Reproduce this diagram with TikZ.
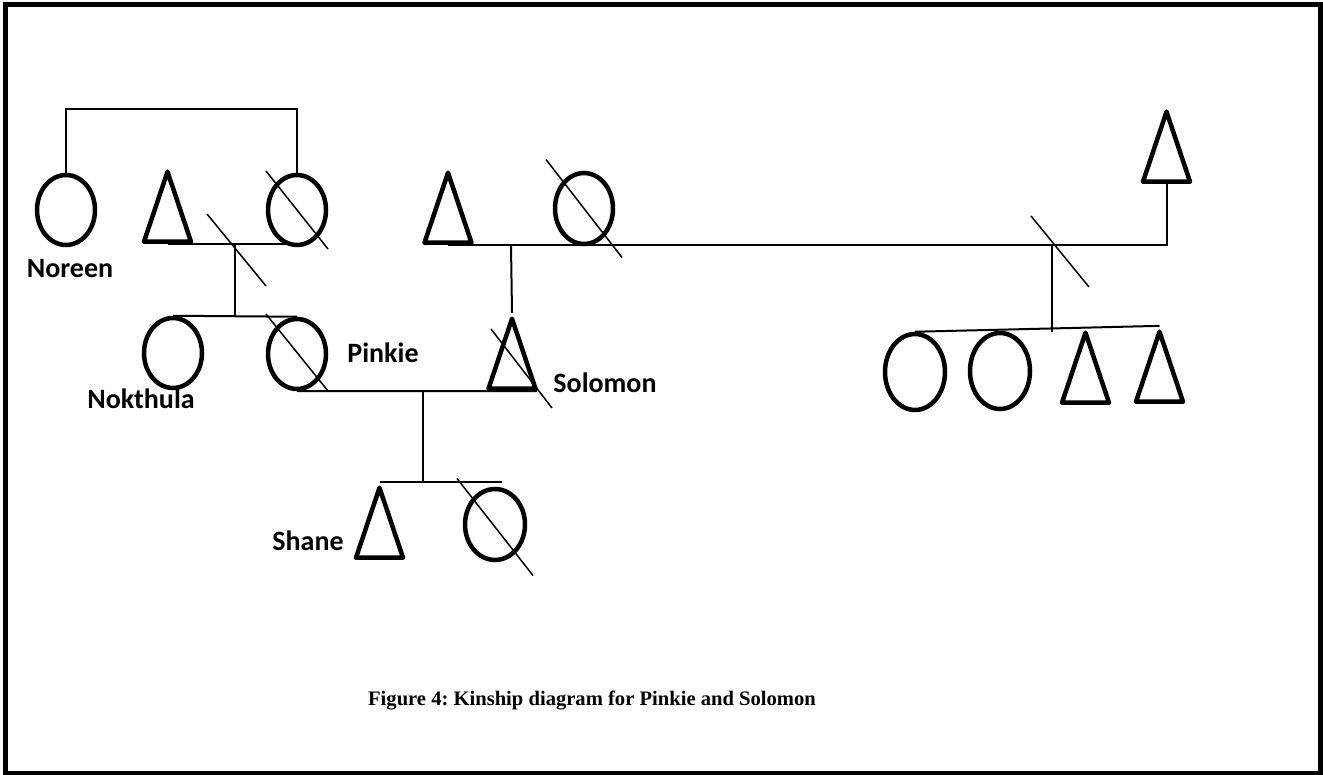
\documentclass[tikz,border=0pt]{standalone}
\usepackage{fontspec}
\usepackage{tikz}
\usetikzlibrary{shapes.geometric,positioning}
\newfontfamily\namefont{Carlito}
\newfontfamily\capfont{Liberation Serif}

\tikzset{
	female/.style={ellipse, draw, line width=4.5pt, minimum width=58pt, minimum height=70pt, inner sep=0pt},
	male/.style={isosceles triangle, isosceles triangle stretches=true, shape border rotate=90, draw, line width=4.5pt, line join=round, minimum width=47pt, minimum height=70pt, inner sep=0pt},
	link/.style={line width=2pt},
	slash/.style={line width=1.5pt},
	kinname/.style={font=\namefont\bfseries\fontsize{28}{30}\selectfont, anchor=base, inner sep=0pt}
}

\begin{document}
\begin{tikzpicture}[x=1pt,y=-1pt]
		\useasboundingbox (0,0) rectangle (1323,775);
		% Frame
		\draw[line width=5pt] (5.5,4.5) rectangle (1320,773);

		% First generation
		\node[female] (noreen) at (66,210) {};
		\node[male, anchor=south] (grandpa) at (167.5,244) {};
		\node[female] (grandma) at (297,210) {};
		\node[male, anchor=south] (solfather) at (448,245) {};
		\node[female, minimum height=71pt] (solmother) at (584,208.5) {};
		\node[male, anchor=south] (husband2) at (1166.5,184) {};

		% Second generation
		\node[female] (nokthula) at (173,353) {};
		\node[female] (pinkie) at (297,354) {};
		\node[male, anchor=south] (solomon) at (512,391) {};
		\node[female, minimum width=60pt, minimum height=76pt] (half1) at (915,372) {};
		\node[female, minimum width=60pt, minimum height=76pt] (half2) at (1000,371) {};
		\node[male, anchor=south] (half3) at (1085.5,405) {};
		\node[male, anchor=south] (half4) at (1159.5,404) {};

		% Third generation
		\node[male, anchor=south] (shane) at (379.5,560) {};
		\node[female, minimum width=60pt, minimum height=71pt] (daughter) at (495,524.5) {};

		% Sisters
		\coordinate (sisbar) at (0,109);
		\draw[link] (noreen.north) -- (noreen.north |- sisbar) -| (grandma.north);

		% Pinkie's parents (divorced)
		\draw[link] (grandpa.south) -- (grandpa.south -| grandma.south);
		\coordinate (m1) at (235,245);
		\draw[slash] (m1) ++(-28,-31) -- ++(59,72);
		\draw[link] (m1) -- (m1 |- nokthula.north);
		\draw[link] (nokthula.north) -- (pinkie.north);
		\draw[slash] (grandma) ++(-31,-39) -- ++(62,78);
		\draw[slash] (pinkie) ++(-31,-40) -- ++(62,77);

		% Solomon's parents and his mother's second marriage
		\draw[link] (solfather.south) -- (solfather.south -| husband2.south) -- (husband2.south);
		\draw[slash] (solmother) ++(-38,-49) -- ++(76,98);
		\coordinate (m2) at (511,245);
		\draw[link] (m2) -- (solomon.apex);
		\draw[slash] (solomon.south) ++(-21,-62) -- ++(61,79);
		\coordinate (m4) at (1052,245);
		\draw[slash] (m4) ++(-21,-29) -- ++(58,71);
		\draw[link] (m4) -- (m4 |- half1.north);
		\draw[link] (half1.north) -- (half4.apex);

		% Pinkie and Solomon
		\draw[link] (pinkie.south) -- ([xshift=25pt]solomon.south);
		\coordinate (m3) at (423,391);
		\draw[link] (m3) -- (m3 |- shane.apex);
		\draw[link] (shane.apex) -- ([xshift=7pt]shane.apex -| daughter.north);
		\draw[slash] (daughter) ++(-38,-46) -- ++(76,97);

		% Labels
		\node[kinname] (noreenlbl) at (70,278) {Noreen};
		\node[kinname] (nokthulalbl) at (141,409) {Nokthula};
		\node[kinname] (pinkielbl) at (383,363) {Pinkie};
		\node[kinname] (solomonlbl) at (605,393) {Solomon};
		\node[kinname] (shanelbl) at (308,550) {Shane};
		\node[font=\capfont\bfseries\frenchspacing\fontsize{20.6}{24}\selectfont, anchor=base] (caption) at (592,705) {Figure 4: Kinship diagram for Pinkie and Solomon};
	\end{tikzpicture}
\end{document}
